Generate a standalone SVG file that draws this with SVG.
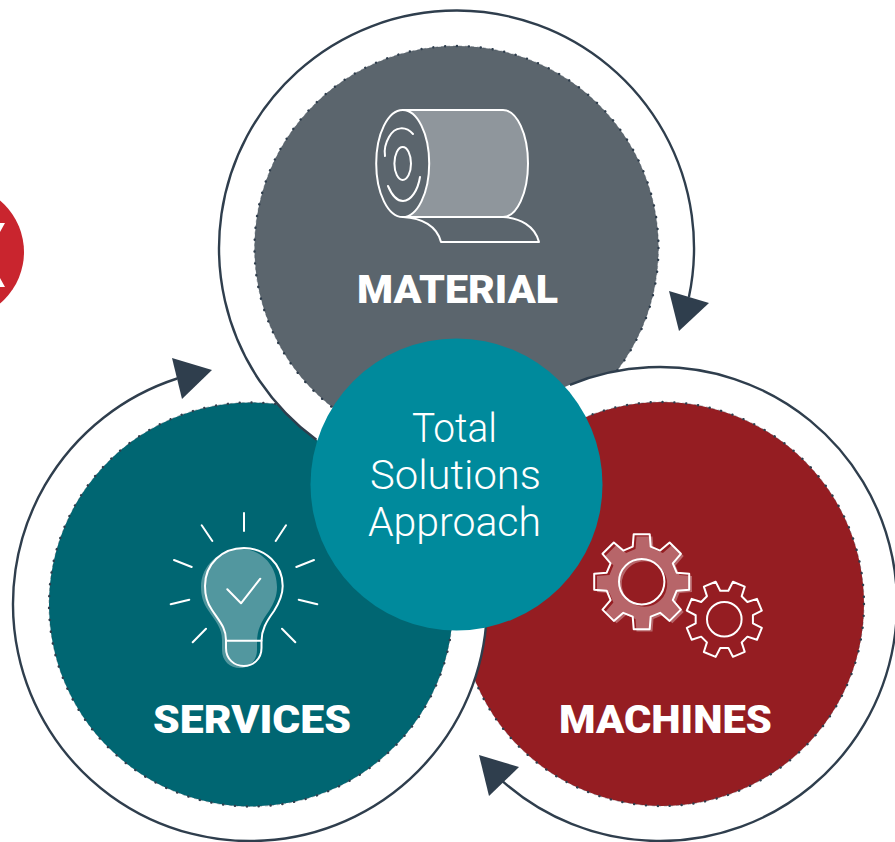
<svg xmlns="http://www.w3.org/2000/svg" xmlns:xlink="http://www.w3.org/1999/xlink" width="895" height="842" viewBox="0 0 895 842">
<style>
.disc{stroke:none}
.dots{fill:none;stroke:#2f3e4d;stroke-width:2.4;stroke-linecap:round;stroke-dasharray:0.1 11.8}
.thin{fill:none;stroke:#2f3e4d;stroke-width:.6;stroke-opacity:.6;stroke-dasharray:3 3}
.arc{fill:none;stroke:#2f3e4d;stroke-width:2.4}
.head{fill:#2f3e4d}
.ic{fill:none;stroke:#fff;stroke-width:2;stroke-linecap:round;stroke-linejoin:round}
.tint{fill:#fff;fill-opacity:.32;stroke:none}
.title{font-family:"Roboto","Liberation Sans",sans-serif;font-weight:900;font-size:38px;fill:#fff}
.center{font-family:"Roboto","Liberation Sans",sans-serif;font-weight:300;font-size:40px;fill:#fff}
</style>
<defs>
<clipPath id="notMaterialRing"><path clip-rule="evenodd" d="M0,0H895V842H0Z M219,248a237.500,237.500 0 1 0 475,0a237.500,237.500 0 1 0 -475,0Z"/></clipPath>
<clipPath id="notServicesRing"><path clip-rule="evenodd" d="M0,0H895V842H0Z M13,604a237,237 0 1 0 474,0a237,237 0 1 0 -474,0Z"/></clipPath>
<clipPath id="notMachinesRing"><path clip-rule="evenodd" d="M0,0H895V842H0Z M423,604a237,237 0 1 0 474,0a237,237 0 1 0 -474,0Z"/></clipPath>
<path id="gear" d="M-9,-35L-8,-47.500L8,-47.500L9,-35L18.400,-31.100L27.900,-39.200L39.200,-27.900L31.100,-18.400L35,-9L47.500,-8L47.500,8L35,9L31.100,18.400L39.200,27.900L27.900,39.200L18.400,31.100L9,35L8,47.500L-8,47.500L-9,35L-18.400,31.100L-27.900,39.200L-39.200,27.900L-31.100,18.400L-35,9L-47.500,8L-47.500,-8L-35,-9L-31.100,-18.400L-39.200,-27.900L-27.900,-39.200L-18.400,-31.100Z"/>
</defs>

<g id="side-badge">
<circle cx="-43" cy="252" r="67" fill="#c9252e"/>
<path d="M0,223L5,223L0,232Z M0,278L5,287L0,287Z" fill="#fff"/>
</g>

<g id="material">
<g clip-path="url(#notMachinesRing)">
<circle class="disc" cx="456.500" cy="248" r="202" fill="#5b656d"/>
<circle class="dots" cx="456.500" cy="248" r="202"/>
<circle class="thin" cx="456.500" cy="248" r="202"/>
</g>
<g id="roll-icon">
<path class="tint" d="M403,110H503A25,53.500 0 0 1 503,217H403A27,53.500 0 0 0 403,110Z"/>
<ellipse class="ic" cx="402.700" cy="163.500" rx="26.500" ry="53.500"/>
<ellipse class="ic" cx="402.700" cy="163.500" rx="8.300" ry="16.500"/>
<path class="ic" d="M403,110H503A25,53.500 0 0 1 503,217H403"/>
<path class="ic" d="M413,134C406,126 395,126 389,137C385,144 384,150 385,156"/>
<path class="ic" d="M388,186C393,198 398,201 403,201C411,201 418,190 420,177"/>
<path class="ic" d="M403,217C422,218 437,226 441,242H539C535,226 520,218 503,217"/>
</g>
<text class="title" x="357" y="303" textLength="201" lengthAdjust="spacingAndGlyphs">MATERIAL</text>
</g>

<g id="machines">
<g clip-path="url(#notServicesRing)">
<circle class="disc" cx="662" cy="604" r="202" fill="#951d22"/>
<circle class="dots" cx="662" cy="604" r="202"/>
<circle class="thin" cx="662" cy="604" r="202"/>
</g>
<g id="gears-icon">
<path class="tint" fill-rule="evenodd" transform="translate(644.500,584)" d="M-9,-35L-8,-47.500L8,-47.500L9,-35L18.400,-31.100L27.900,-39.200L39.200,-27.900L31.100,-18.400L35,-9L47.500,-8L47.500,8L35,9L31.100,18.400L39.200,27.900L27.900,39.200L18.400,31.100L9,35L8,47.500L-8,47.500L-9,35L-18.400,31.100L-27.900,39.200L-39.200,27.900L-31.100,18.400L-35,9L-47.500,8L-47.500,-8L-35,-9L-31.100,-18.400L-39.200,-27.900L-27.900,-39.200L-18.400,-31.100Z M-22.700,0a22.700,22.700 0 1 0 45.400,0a22.700,22.700 0 1 0 -45.400,0Z"/>
<use xlink:href="#gear" href="#gear" class="ic" transform="translate(641.700,581.700)"/>
<circle class="ic" cx="641.700" cy="581.700" r="22.700"/>
<use xlink:href="#gear" href="#gear" class="ic" style="stroke-width:2.500" transform="translate(724.300,619.300) rotate(22.500) scale(.8)"/>
<circle class="ic" cx="724.300" cy="619.300" r="17.300"/>
</g>
<text class="title" x="559" y="733" textLength="213" lengthAdjust="spacingAndGlyphs">MACHINES</text>
</g>

<g id="services">
<g clip-path="url(#notMaterialRing)">
<circle class="disc" cx="251" cy="604.500" r="202" fill="#006672"/>
<circle class="dots" cx="251" cy="604.500" r="202"/>
<circle class="thin" cx="251" cy="604.500" r="202"/>
</g>
<g id="bulb-icon">
<path class="tint" d="M222,640C222,628 216,622 208,610C203,603 201,595 201,587C201,565 220,549 241,549C261,549 277,565 277,587C277,596 274,603 269,611C261,622 257,630 257,642V650C257,661 249,668 240,668C230,668 222,661 222,650Z"/>
<path class="ic" d="M226,640C226,628 220,622 212,610C207,603 205,595 205,586C205,564 222,548 244,548C265,548 282.700,564 282.700,586C282.700,595 279,603 274,611C266,622 261.500,630 261.500,641V648C261.500,659 253,666 244,666C234,666 226,659 226,648Z"/>
<path class="ic" d="M226,640.700H261.500"/>
<path class="ic" d="M227.300,589.300L241,603.300L260.300,578.700"/>
<path class="ic" d="M244,513V531M201.700,525.300L212.300,541M286,525.300L275.700,541M174,560L191.700,567M314,560L296.300,567M170.700,604.300L189.300,599.700M317.300,604.300L298.700,599.700M192.700,642.300L206,628.700M295.300,642.300L282,628.700"/>
</g>
<text class="title" x="153" y="733" textLength="198" lengthAdjust="spacingAndGlyphs">SERVICES</text>
</g>

<g id="connectors">
<path class="arc" d="M316.400,439.800A237.500,237.500 0 1 1 688.900,297.100"/>
<polygon class="head" points="669,291 709,303 679,331"/>
<path class="arc" d="M569.900,384.800A237,237 0 1 1 502.700,781.300"/>
<polygon class="head" points="479,755 519,767 489,796"/>
<path class="arc" d="M487,604A237,237 0 1 1 177.200,378.500"/>
<polygon class="head" points="172,358 212,370 182,399"/>
</g>

<g id="center">
<circle cx="456.500" cy="484.500" r="146" fill="#008a9c"/>
<text class="center" x="412" y="442" textLength="85" lengthAdjust="spacingAndGlyphs">Total</text>
<text class="center" x="370" y="489" textLength="171" lengthAdjust="spacingAndGlyphs">Solutions</text>
<text class="center" x="368" y="536" textLength="173" lengthAdjust="spacingAndGlyphs">Approach</text>
</g>
</svg>
